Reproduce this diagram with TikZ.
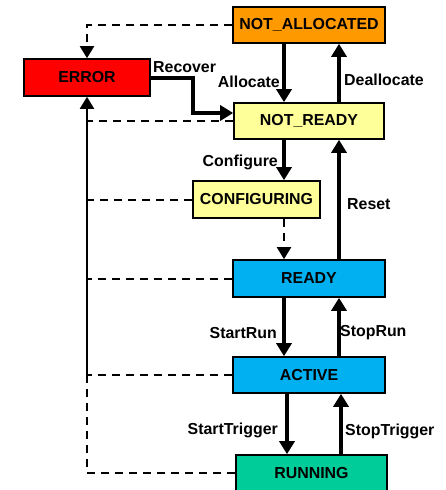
\documentclass[tikz,border=0pt]{standalone}
\usepackage{fontspec}
\setmainfont{Liberation Sans}
\usetikzlibrary{arrows.meta}
\definecolor{cOrange}{RGB}{255,153,0}
\definecolor{cRed}{RGB}{255,0,0}
\definecolor{cYellow}{RGB}{255,255,153}
\definecolor{cBlue}{RGB}{0,176,240}
\definecolor{cGreen}{RGB}{0,204,153}
\begin{document}
\begin{tikzpicture}[x=1pt,y=-1pt,
  font=\fontsize{15.9}{19}\selectfont\bfseries,
  state/.style={draw=black,line width=1.6pt,inner sep=0pt,minimum height=36pt},
  trans/.style={line width=4pt,-{Triangle[length=13pt,width=15pt]}},
  errline/.style={line width=2pt,dash pattern=on 8pt off 6pt},
  errarrow/.style={line width=2pt,dash pattern=on 8pt off 6pt,-{Triangle[length=12pt,width=14pt]}},
  lbl/.style={inner sep=0pt}]
\useasboundingbox (0,0) rectangle (446,490);

% states
\node[state,fill=cOrange,minimum width=152pt] (na) at (309,25) {NOT\_ALLOCATED};
\node[state,fill=cRed,minimum width=126pt,minimum height=37pt] (er) at (87,77.5) {ERROR};
\node[state,fill=cYellow,minimum width=150pt] (nr) at (309,121) {NOT\_READY};
\node[state,fill=cYellow,minimum width=127pt,minimum height=37pt] (cf) at (256.5,199.5) {CONFIGURING};
\node[state,fill=cBlue,minimum width=152pt,minimum height=37pt] (rd) at (309,278.5) {READY};
\node[state,fill=cBlue,minimum width=152pt] (ac) at (309,375) {ACTIVE};
\node[state,fill=cGreen,minimum width=151pt] (rn) at (311.5,473) {RUNNING};

% columns of the vertical transitions
\coordinate (xl) at (284,0);
\coordinate (xr) at (339,0);
\coordinate (xl2) at (287,0);
\coordinate (xr2) at (341,0);
\coordinate (rc) at (193,0);
\coordinate (ev) at (87,0);

% error paths
\draw[errarrow] (na.west) -| (er.north);
\foreach \s in {nr,cf,rd,ac}{
  \draw[errline] (\s.west) -- (\s.west -| ev);
}
\draw[errline] (rn.west) -| (ac.west -| ev);
\draw[line width=2pt,-{Triangle[length=12pt,width=14pt]}] (ac.west -| ev) -- (er.south);

% recover
\draw[trans] (er.east) -- (er.east -| rc) |- ([yshift=8pt]nr.west);

% main transitions
\draw[trans] (na.south -| xl) -- (nr.north -| xl);
\draw[trans] (nr.north -| xr) -- (na.south -| xr);
\draw[trans] (nr.south -| xl) -- (cf.north -| xl);
\draw[errarrow] (cf.south -| xl) -- (rd.north -| xl);
\draw[trans] (rd.north -| xr) -- (nr.south -| xr);
\draw[trans] (rd.south -| xl) -- (ac.north -| xl);
\draw[trans] (ac.north -| xr) -- (rd.south -| xr);
\draw[trans] (ac.south -| xl2) -- (rn.north -| xl2);
\draw[trans] (rn.north -| xr2) -- (ac.south -| xr2);

% labels
\node[lbl,anchor=west] (lrec) at (153,67) {Recover};
\node[lbl,anchor=east] (lalo) at (280,82) {Allocate};
\node[lbl,anchor=west] (ldea) at (344,80) {Deallocate};
\node[lbl,anchor=east] (lcfg) at (278,162) {Configure};
\node[lbl,anchor=west] (lres) at (347,204) {Reset};
\node[lbl,anchor=east] (lsr) at (277,333) {StartRun};
\node[lbl,anchor=west] (lspr) at (340,333) {StopRun};
\node[lbl,anchor=east] (lst) at (278,430) {StartTrigger};
\node[lbl,anchor=west] (lspt) at (345,431) {StopTrigger};
\end{tikzpicture}
\end{document}
